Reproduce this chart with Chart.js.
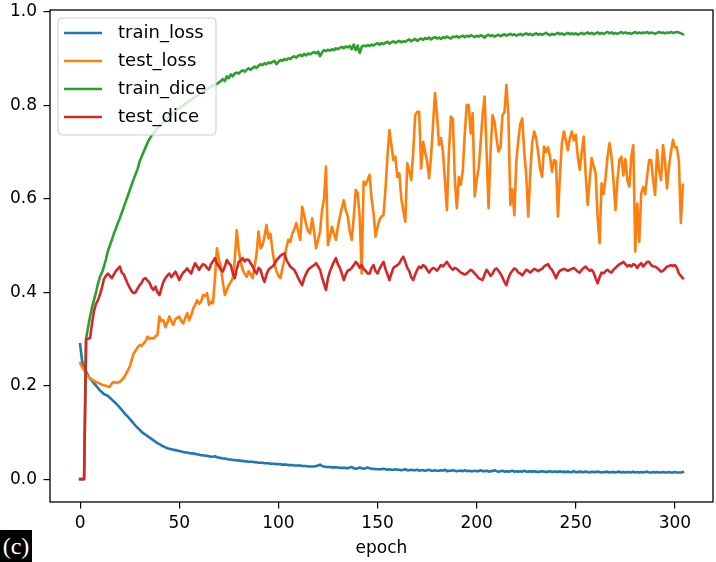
<!DOCTYPE html>
<html><head><meta charset="utf-8">
<script src="https://cdn.jsdelivr.net/npm/chart.js@4/dist/chart.umd.min.js"></script>
<style>
html,body{margin:0;padding:0;background:#fff;}
#wrap{position:relative;width:716px;height:562px;overflow:hidden;background:#fff;}
#tag{position:absolute;left:0;top:530px;width:32px;height:32px;background:#000;color:#fff;font:24px 'Liberation Serif','DejaVu Serif',serif;line-height:32px;text-align:center;}
</style></head><body>
<div id="wrap"><canvas id="c" width="716" height="562"></canvas><div id="tag">(c)</div></div>
<script>
// ---- data ----
const trainLoss = [
.289,.252,.238,.230,.222,.215,.210,.205,.200,.195,
.190,.186,.182,.180,.178,.174,.170,.166,.162,.158,
.153,.148,.143,.138,.134,.129,.124,.119,.114,.110,
.106,.101,.098,.095,.092,.089,.086,.083,.080,.077,
.075,.072,.070,.068,.066,.065,.064,.063,.062,.061,
.060,.059,.058,.057,.057,.056,.055,.055,.054,.053,
.052,.051,.051,.050,.050,.049,.048,.048,.049,.047,
.046,.045,.044,.044,.043,.042,.042,.041,.041,.040,
.040,.039,.039,.038,.038,.037,.037,.037,.036,.036,
.035,.035,.035,.034,.034,.034,.033,.033,.033,.032,
.032,.032,.031,.031,.031,.030,.030,.030,.029,.029,
.029,.029,.028,.028,.028,.027,.027,.027,.027,.028,
.029,.031,.028,.027,.026,.026,.026,.025,.025,.025,
.025,.024,.024,.024,.024,.023,.025,.026,.023,.022,
.023,.025,.023,.022,.023,.025,.023,.022,.022,.021,
.021,.021,.021,.022,.021,.020,.021,.020,.020,.021,
.020,.020,.019,.020,.021,.019,.019,.020,.019,.019,
.020,.018,.019,.019,.018,.019,.020,.018,.018,.019,
.018,.018,.019,.018,.020,.017,.018,.018,.019,.018,
.017,.018,.018,.017,.019,.017,.018,.017,.017,.018,
.017,.017,.019,.017,.017,.018,.016,.017,.017,.019,
.017,.016,.017,.018,.016,.017,.016,.017,.018,.016,
.017,.016,.017,.016,.018,.016,.016,.017,.016,.017,
.016,.015,.016,.017,.016,.015,.016,.017,.015,.016,
.016,.015,.017,.015,.016,.015,.016,.015,.015,.017,
.015,.015,.016,.015,.015,.016,.015,.014,.016,.015,
.015,.016,.015,.014,.015,.015,.016,.014,.015,.015,
.014,.015,.016,.014,.015,.014,.015,.015,.014,.016,
.014,.015,.014,.015,.014,.015,.016,.014,.014,.015,
.014,.015,.014,.014,.015,.014,.014,.015,.014,.014,
.015,.014,.014,.014,.015];

const testLoss = [
.248,.240,.233,.225,.220,.216,.213,.210,.208,.206,
.204,.202,.201,.200,.198,.198,.205,.208,.206,.207,
.208,.212,.217,.224,.232,.240,.255,.269,.275,.282,
.287,.285,.290,.295,.305,.300,.302,.301,.306,.308,
.348,.338,.340,.325,.335,.348,.338,.330,.342,.345,
.348,.338,.333,.345,.355,.340,.350,.365,.373,.383,
.375,.380,.394,.392,.398,.373,.380,.376,.430,.494,
.470,.455,.420,.394,.405,.415,.422,.430,.470,.533,
.490,.465,.448,.440,.433,.445,.438,.430,.455,.483,
.530,.494,.500,.520,.544,.515,.525,.490,.462,.445,
.435,.430,.450,.469,.495,.512,.508,.525,.535,.548,
.530,.512,.583,.565,.545,.530,.526,.558,.530,.494,
.512,.530,.575,.600,.669,.501,.520,.540,.525,.512,
.540,.562,.580,.597,.575,.562,.530,.512,.560,.619,
.612,.560,.440,.637,.630,.640,.651,.600,.569,.519,
.540,.555,.562,.565,.620,.690,.747,.715,.683,.690,
.647,.655,.600,.575,.551,.676,.660,.640,.700,.779,
.786,.786,.665,.722,.700,.680,.644,.690,.760,.826,
.780,.715,.730,.700,.640,.576,.700,.776,.770,.640,
.580,.647,.630,.660,.740,.801,.800,.740,.783,.605,
.640,.665,.720,.780,.819,.700,.580,.700,.779,.765,
.730,.701,.710,.779,.785,.844,.780,.587,.620,.565,
.680,.726,.760,.772,.700,.651,.562,.650,.720,.744,
.730,.700,.665,.647,.712,.700,.710,.690,.658,.683,
.680,.562,.650,.720,.744,.725,.704,.730,.744,.725,
.737,.690,.662,.700,.733,.650,.587,.640,.687,.670,
.655,.560,.505,.633,.610,.644,.690,.719,.690,.640,
.576,.640,.683,.690,.650,.685,.640,.626,.690,.715,
.487,.590,.508,.612,.625,.610,.650,.683,.683,.640,
.608,.704,.660,.640,.715,.680,.622,.670,.700,.726,
.710,.710,.680,.548,.630];

const trainDice = [
0,0,0,.300,.325,.348,.368,.383,.400,.418,
.433,.442,.455,.470,.488,.500,.512,.525,.536,.548,
.558,.570,.582,.594,.606,.618,.630,.642,.653,.664,
.680,.690,.700,.710,.720,.728,.735,.741,.746,.751,
.756,.760,.764,.768,.772,.776,.780,.784,.788,.791,
.794,.797,.800,.803,.806,.809,.812,.815,.818,.821,
.824,.827,.830,.833,.835,.837,.840,.842,.844,.846,
.849,.852,.856,.852,.862,.858,.866,.862,.868,.870,
.868,.872,.875,.872,.876,.879,.876,.880,.883,.880,
.885,.888,.886,.890,.888,.892,.890,.893,.895,.888,
.893,.897,.895,.899,.897,.901,.899,.903,.905,.902,
.906,.908,.905,.910,.907,.911,.909,.912,.914,.911,
.915,.905,.913,.918,.916,.919,.917,.920,.918,.922,
.920,.923,.925,.922,.926,.924,.927,.920,.930,.918,
.928,.912,.925,.928,.926,.929,.927,.930,.928,.931,
.933,.930,.933,.931,.934,.936,.932,.935,.937,.934,
.936,.938,.935,.937,.936,.939,.941,.937,.940,.942,
.938,.941,.943,.940,.944,.942,.945,.941,.944,.946,
.943,.945,.942,.946,.944,.947,.945,.943,.947,.946,
.948,.945,.947,.949,.946,.949,.947,.950,.948,.946,
.949,.947,.950,.948,.945,.949,.951,.948,.950,.947,
.949,.951,.948,.950,.952,.949,.951,.953,.950,.952,
.949,.951,.953,.950,.952,.954,.951,.953,.950,.952,
.954,.951,.953,.951,.953,.955,.952,.950,.953,.951,
.953,.955,.952,.954,.951,.953,.955,.952,.954,.952,
.954,.951,.953,.955,.952,.954,.956,.953,.955,.952,
.954,.956,.953,.955,.953,.955,.957,.954,.956,.953,
.955,.953,.955,.957,.954,.956,.954,.955,.953,.955,
.957,.954,.956,.954,.956,.955,.957,.954,.956,.955,
.953,.955,.957,.955,.956,.954,.956,.955,.957,.955,
.956,.957,.956,.954,.952];

const testDice = [
0,0,0,.300,.300,.302,.333,.360,.375,.383,
.395,.410,.428,.435,.440,.435,.430,.438,.445,.450,
.455,.442,.438,.428,.418,.410,.402,.398,.400,.408,
.415,.420,.428,.430,.425,.420,.410,.405,.412,.400,
.394,.408,.422,.430,.436,.440,.432,.438,.444,.436,
.426,.435,.442,.446,.451,.445,.440,.452,.462,.455,
.448,.455,.460,.458,.452,.448,.460,.466,.473,.462,
.455,.448,.444,.455,.469,.462,.458,.440,.430,.450,
.465,.468,.473,.466,.470,.469,.462,.455,.446,.440,
.452,.448,.432,.422,.438,.448,.452,.455,.460,.468,
.473,.478,.481,.483,.470,.462,.455,.451,.448,.440,
.430,.422,.415,.430,.440,.448,.452,.455,.458,.462,
.455,.448,.432,.418,.405,.430,.445,.455,.465,.473,
.460,.452,.440,.426,.438,.446,.448,.452,.458,.465,
.460,.452,.458,.450,.446,.440,.440,.452,.458,.445,
.440,.450,.458,.465,.450,.438,.426,.440,.452,.455,
.458,.462,.470,.476,.465,.452,.445,.432,.426,.438,
.448,.455,.452,.458,.455,.448,.442,.448,.452,.450,
.446,.452,.458,.455,.460,.465,.458,.452,.448,.452,
.450,.446,.442,.440,.438,.440,.444,.448,.445,.440,
.436,.430,.428,.426,.438,.448,.442,.435,.440,.448,
.451,.446,.440,.432,.422,.415,.430,.440,.446,.451,
.448,.442,.440,.436,.442,.448,.446,.442,.446,.450,
.448,.445,.448,.450,.455,.458,.460,.452,.448,.440,
.430,.440,.446,.448,.450,.448,.446,.448,.450,.452,
.448,.444,.442,.448,.452,.455,.450,.446,.448,.442,
.430,.419,.432,.442,.440,.445,.448,.444,.442,.448,
.452,.456,.460,.462,.465,.460,.455,.458,.455,.460,
.458,.452,.458,.462,.455,.460,.465,.465,.458,.455,
.455,.452,.448,.444,.446,.450,.455,.456,.458,.456,
.458,.452,.440,.435,.430];

const seriesNames = ['train_loss', 'test_loss', 'train_dice', 'test_dice'];
const seriesColors = ['#1f77b4', '#ff7f0e', '#2ca02c', '#d62728'];
const xTicks = [0, 50, 100, 150, 200, 250, 300];
const yTicks = [0.0, 0.2, 0.4, 0.6, 0.8, 1.0];
const xTitle = 'epoch';

// ---- chart ----
const epochs = trainLoss.map((_, i) => i);
const allSeries = [trainLoss, testLoss, trainDice, testDice];
const FONT = "'DejaVu Sans', sans-serif";
const FS = 17;
const LFS = 18;
Chart.defaults.font.family = FONT;
Chart.defaults.color = '#000';

const datasets = allSeries.map((vals, k) => ({
  label: seriesNames[k],
  data: vals.map((v, i) => ({x: epochs[i], y: v})),
  borderColor: seriesColors[k],
  backgroundColor: seriesColors[k],
  borderWidth: 2.6,
  pointRadius: 0,
  tension: 0,
  fill: false,
  borderJoinStyle: 'round',
  borderCapStyle: 'square',
  order: allSeries.length - k
}));

const framePlugin = {
  id: 'frame',
  afterDatasetsDraw(chart) {
    const {ctx, chartArea: a} = chart;
    ctx.save();
    ctx.strokeStyle = '#000';
    ctx.lineWidth = 1.3;
    ctx.strokeRect(a.left, a.top, a.right - a.left, a.bottom - a.top);
    ctx.restore();
  },
  afterDraw(chart) {
    const ctx = chart.ctx;
    ctx.save();
    const bx = 58, by = 18, bw = 158, bh = 117, r = 4;
    ctx.beginPath();
    ctx.moveTo(bx + r, by);
    ctx.lineTo(bx + bw - r, by); ctx.quadraticCurveTo(bx + bw, by, bx + bw, by + r);
    ctx.lineTo(bx + bw, by + bh - r); ctx.quadraticCurveTo(bx + bw, by + bh, bx + bw - r, by + bh);
    ctx.lineTo(bx + r, by + bh); ctx.quadraticCurveTo(bx, by + bh, bx, by + bh - r);
    ctx.lineTo(bx, by + r); ctx.quadraticCurveTo(bx, by, bx + r, by);
    ctx.closePath();
    ctx.fillStyle = 'rgba(255,255,255,0.8)';
    ctx.fill();
    ctx.strokeStyle = '#cccccc';
    ctx.lineWidth = 1;
    ctx.stroke();
    ctx.font = LFS + 'px ' + FONT;
    ctx.textBaseline = 'middle';
    ctx.textAlign = 'left';
    seriesNames.forEach((name, k) => {
      const y = 33 + k * 28;
      ctx.strokeStyle = seriesColors[k];
      ctx.lineWidth = 2.6;
      ctx.beginPath(); ctx.moveTo(64, y); ctx.lineTo(102, y); ctx.stroke();
      ctx.fillStyle = '#000';
      ctx.fillText(name, 118, y);
    });
    ctx.restore();
  }
};

new Chart(document.getElementById('c'), {
  type: 'line',
  data: {datasets},
  options: {
    responsive: false,
    animation: false,
    devicePixelRatio: 1,
    layout: {padding: {left: 0, right: 3, top: 10, bottom: 0}},
    plugins: {legend: {display: false}, tooltip: {enabled: false}},
    scales: {
      x: {
        type: 'linear', min: -15.2, max: 319.2,
        afterBuildTicks: s => { s.ticks = xTicks.map(v => ({value: v})); },
        afterFit: s => { s.height = 60; s.paddingLeft = 0; s.paddingRight = 0; },
        ticks: {font: {size: FS}, color: '#000', padding: 5, maxRotation: 0, autoSkip: false,
                callback: v => String(v)},
        grid: {display: true, drawOnChartArea: false, drawTicks: true, tickLength: 6.5, color: '#000', lineWidth: 1.2},
        border: {display: false},
        title: {display: true, text: xTitle, font: {size: FS}, color: '#000', padding: {top: 0, bottom: 3}}
      },
      y: {
        type: 'linear', min: -0.049, max: 1.004,
        afterBuildTicks: s => { s.ticks = yTicks.map(v => ({value: v})); },
        afterFit: s => { s.width = 50; s.paddingTop = 0; s.paddingBottom = 0; },
        ticks: {font: {size: FS}, color: '#000', padding: 6.5, autoSkip: false,
                callback: v => Number(v).toFixed(1)},
        grid: {display: true, drawOnChartArea: false, drawTicks: true, tickLength: 6.5, color: '#000', lineWidth: 1.2},
        border: {display: false}
      }
    }
  },
  plugins: [framePlugin]
});
</script>
</body></html>
